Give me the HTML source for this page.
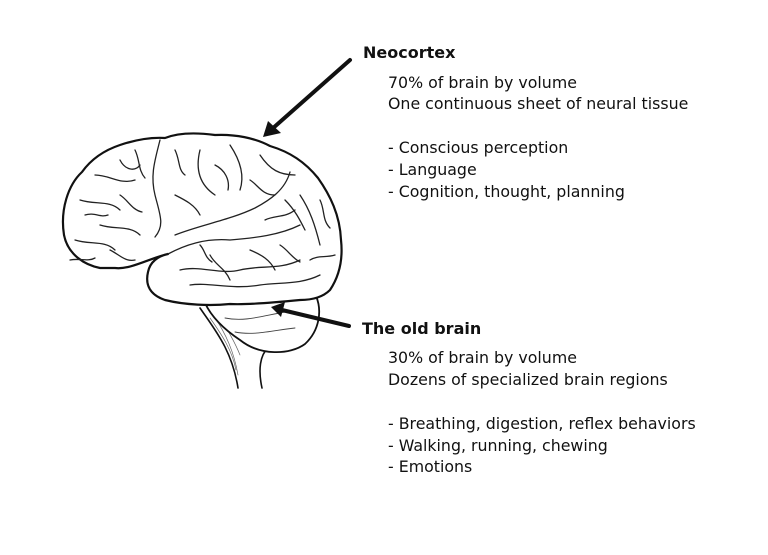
<!DOCTYPE html>
<html><head><style>
body{margin:0;width:768px;height:555px;background:#fff;position:relative;overflow:hidden;font-family:"DejaVu Sans","Liberation Sans",sans-serif;color:#111}
.t{position:absolute;font-size:15.8px;white-space:nowrap;line-height:18px}
.b{font-weight:bold;font-size:16px}
</style></head><body>
<svg width="768" height="555" style="position:absolute;left:0;top:0" fill="none" stroke="#111" stroke-linecap="round" stroke-linejoin="round">
<path d="M200,308 C215,330 232,350 238,388 M262,388 C258,370 260,355 268,348" stroke-width="1.6"/>
<path d="M210,318 C222,335 232,350 236,370 M218,315 C228,330 236,345 240,355 M214,316 C226,334 234,352 238,375" stroke-width="0.7" stroke="#666"/>
<path d="M205,303 C230,300 300,300 316,296 C322,310 320,330 305,344 C290,355 260,356 240,340 C225,330 212,318 205,303Z" stroke-width="1.8" fill="#fff"/>
<path d="M225,318 C245,322 262,316 285,312 M235,332 C255,336 275,330 295,328" stroke-width="0.9" stroke="#444"/>
<path d="M100,268 C85,265 68,255 64,235 C60,210 68,185 82,172 C92,158 105,150 120,145 C135,140 150,137 165,138 C180,132 200,133 215,135 C235,134 255,138 270,146 C290,152 305,162 318,178 C330,195 340,215 341,240 C343,258 340,275 330,290 C322,298 310,300 300,300 C280,302 250,305 230,304 C210,306 185,305 165,300 C150,295 145,285 148,272 C150,262 158,256 168,254 C150,258 130,270 115,268 C110,268 105,268 100,268Z" stroke-width="2.2" fill="#fff"/>
<g stroke-width="1.3" stroke="#222">
<path d="M160,140 C155,160 150,175 155,195 C160,215 165,225 155,237"/>
<path d="M175,235 C200,225 230,220 255,208 C270,200 285,190 290,172"/>
<path d="M168,254 C185,245 205,238 230,240 C255,238 280,235 300,225"/>
<path d="M80,200 C95,205 110,200 120,210 M75,240 C90,245 105,240 115,250"/>
<path d="M95,175 C110,175 120,185 135,180 M100,225 C115,230 130,225 140,235"/>
<path d="M200,150 C195,170 200,185 215,195 M230,145 C240,160 245,175 240,190"/>
<path d="M260,155 C270,170 280,175 295,175 M300,195 C310,210 315,225 320,245"/>
<path d="M180,270 C200,265 220,275 240,270 C260,265 280,270 300,260 M190,285 C210,282 230,290 260,285 C280,282 300,285 320,275"/>
<path d="M250,250 C262,255 270,260 275,270 M210,255 C215,265 225,268 230,280"/>
<path d="M120,160 C125,170 135,172 140,165 M175,195 C185,200 195,205 200,215"/>
<path d="M310,260 C318,255 325,258 335,255 M285,200 C295,210 300,220 305,230"/>
<path d="M135,150 C140,160 138,170 145,178 M85,215 C95,212 100,218 108,215 M120,195 C128,200 132,210 142,212"/>
<path d="M215,165 C225,170 230,180 228,190 M250,180 C258,185 262,195 275,195 M265,220 C275,215 285,218 295,210"/>
<path d="M320,200 C325,210 322,220 330,228 M200,245 C205,250 205,258 212,262 M280,245 C288,250 292,258 300,262"/>
<path d="M70,260 C80,258 88,262 95,258 M175,150 C180,160 178,170 185,175 M110,250 C120,255 125,262 135,260"/>
</g>
<line x1="350" y1="60" x2="272" y2="129" stroke-width="4"/>
<polygon points="263,137 268,121 281,133" fill="#111" stroke="none"/>
<line x1="349" y1="326" x2="282" y2="310" stroke-width="4"/>
<polygon points="271,307 285,302 281,317" fill="#111" stroke="none"/>
</svg>
<div class="t b" style="left:363px;top:44px">Neocortex</div>
<div class="t" style="left:388px;top:74px">70% of brain by volume</div>
<div class="t" style="left:388px;top:95px">One continuous sheet of neural tissue</div>
<div class="t" style="left:388px;top:139px">- Conscious perception</div>
<div class="t" style="left:388px;top:161px">- Language</div>
<div class="t" style="left:388px;top:183px">- Cognition, thought, planning</div>
<div class="t b" style="left:362px;top:320px">The old brain</div>
<div class="t" style="left:388px;top:349px">30% of brain by volume</div>
<div class="t" style="left:388px;top:371px">Dozens of specialized brain regions</div>
<div class="t" style="left:388px;top:415px">- Breathing, digestion, reflex behaviors</div>
<div class="t" style="left:388px;top:437px">- Walking, running, chewing</div>
<div class="t" style="left:388px;top:458px">- Emotions</div>
</body></html>
